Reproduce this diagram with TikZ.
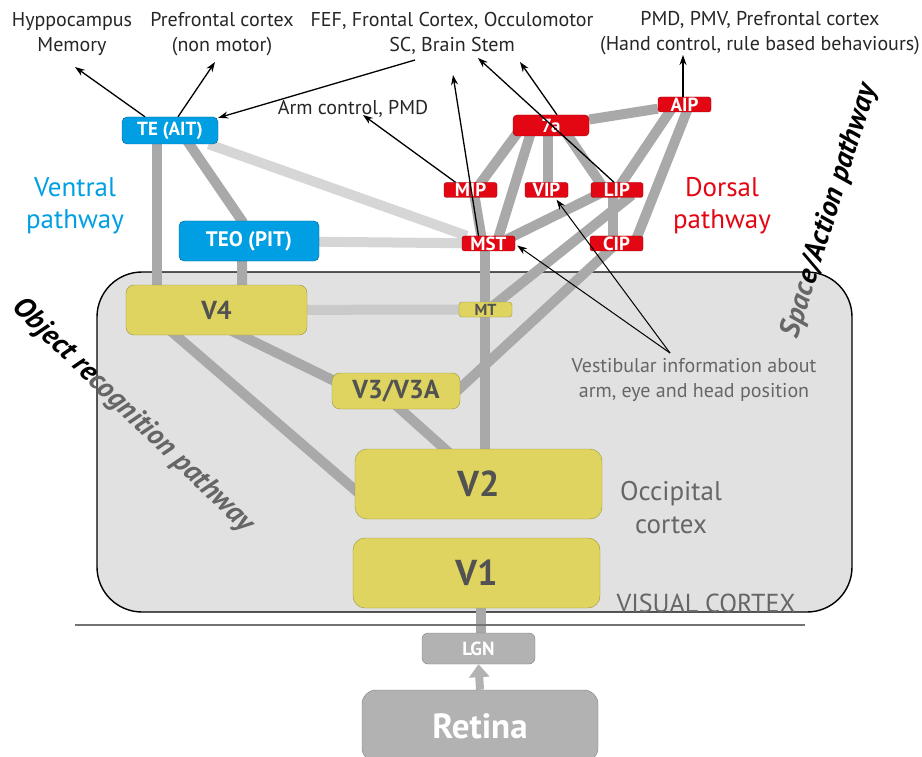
\documentclass[tikz,border=0pt]{standalone}
\usepackage{fontspec}
\setmainfont{PT Sans}
\usetikzlibrary{arrows.meta, positioning, calc, backgrounds}
\definecolor{cortexgray}{HTML}{E1E1E1}
\definecolor{linkgray}{HTML}{A9A9A9}
\definecolor{lightlink}{HTML}{D6D6D6}
\definecolor{innerlink}{HTML}{CACACA}
\definecolor{areayellow}{HTML}{DFD45F}
\definecolor{ventralblue}{HTML}{009FE3}
\definecolor{dorsalred}{HTML}{E30613}
\definecolor{labelgray}{HTML}{666666}
\definecolor{inputgray}{HTML}{B2B2B2}
\newcommand{\fsz}[1]{\fontsize{#1}{#1}\selectfont}
\newcommand{\fszl}[2]{\fontsize{#1}{#2}\selectfont}

\begin{document}
\begin{tikzpicture}[x=1pt, y=-1pt,
    bluebox/.style={rectangle, draw=ventralblue!60!black, fill=ventralblue, rounded corners=5pt, text=white, inner sep=0pt, font=\fsz{19}\bfseries},
    redbox/.style={rectangle, draw=dorsalred!65!black, fill=dorsalred, rounded corners=2.5pt, text=white, inner sep=0pt, minimum width=53pt, minimum height=15pt, font=\fsz{19}\bfseries},
    yelbox/.style={rectangle, draw=areayellow!70!black, fill=areayellow, rounded corners=8pt, text=black!68, inner sep=0pt, font=\bfseries},
    inbox/.style={rectangle, draw=inputgray!70!black, fill=inputgray, rounded corners=6pt, text=white, inner sep=0pt, font=\bfseries},
    lbl/.style={align=center, font=\fszl{20}{25}, text=black!85, inner sep=0pt},
    tilted/.style={font=\fsz{29}\bfseries\itshape, inner sep=0pt},
    link/.style={line width=10pt, color=linkgray},
    llink/.style={line width=10pt, color=lightlink},
    blarr/.style={-{Stealth[length=10pt, width=7pt]}, line width=1.3pt, color=black}
]
\useasboundingbox (0,0) rectangle (922,757);

% Ventral nodes
\node[bluebox, minimum width=96pt, minimum height=27pt] (te) at (170,130.5) {TE (AIT)};
\node[bluebox, minimum width=140pt, minimum height=40pt, font=\fsz{21}\bfseries] (teo) at (249,241) {TEO (PIT)};

% Occipital nodes
\node[yelbox, minimum width=181pt, minimum height=50pt, font=\fsz{26}\bfseries] (v4) at (216.5,310) {V4};
\node[yelbox, minimum width=53pt, minimum height=15pt, rounded corners=3pt, font=\fsz{16}\bfseries] (mt) at (485.5,309.5) {MT};
\node[yelbox, minimum width=128pt, minimum height=36pt, font=\fsz{26}\bfseries] (v3) at (396,391) {V3/V3A};
\node[yelbox, minimum width=247pt, minimum height=70pt, rounded corners=12pt, font=\fsz{36}\bfseries] (v2) at (478.5,484) {V2};
\node[yelbox, minimum width=247pt, minimum height=70pt, rounded corners=12pt, font=\fsz{36}\bfseries] (v1) at (476.5,573) {V1};

% Input nodes
\node[inbox, minimum width=113pt, minimum height=31pt, font=\fsz{19}\bfseries] (lgn) at (478.5,648.5) {LGN};
\node[inbox, minimum width=236pt, minimum height=72pt, rounded corners=14pt, font=\fsz{35}\bfseries] (retina) at (480,726) {Retina};

% Dorsal nodes
\node[redbox, minimum width=76pt, minimum height=21pt, rounded corners=4pt] (a7) at (551,125.5) {7a};
\node[redbox] (mip) at (470.5,190) {MIP};
\node[redbox, minimum width=43pt] (vip) at (546.5,190) {VIP};
\node[redbox, minimum width=52pt] (lip) at (617,190) {LIP};
\node[redbox] (mst) at (488.5,243.5) {MST};
\node[redbox] (cip) at (616.5,243.5) {CIP};
\node[redbox] (aip) at (684.5,104.5) {AIP};

% Cortex box and links
\begin{scope}[on background layer]
\draw[fill=cortexgray, line width=1.4pt, rounded corners=45pt] (97,272) rectangle (852,612);
\draw[line width=10pt, color=innerlink] (v4) -- (mt);
\draw[llink] (te) -- (mst);
\draw[llink] (teo) -- (mst);
\draw[link] ($(te)+(-13,0)$) -- ($(v4)+(-59.5,0)$);
\draw[link] ($(te)+(10,0)$) -- ($(teo)+(-7,-20)$) -- ($(v4)+(25.5,0)$);
\draw[link] ($(v4)+(-70,0)$) -- ($(v2)+(-98.5,27.5)$);
\draw[link] ($(v4)+(-27.5,0)$) -- ($(v3)+(-41,0)$);
\draw[link] ($(v3)+(-16,0)$) -- ($(v2)+(5.5,0)$);
\draw[link] ($(v3)+(61,0)$) -- (cip.center);
\draw[link] ($(v2)+(6.5,0)$) -- ($(mst)+(-3.5,0)$);
\draw[link] ($(mt)+(3,0)$) -- ($(lip)+(15,5)$);
\draw[link] ($(lgn)+(2.5,0)$) -- ($(v1)+(4.5,0)$);
\draw[link] (a7) -- (aip);
\draw[link] ($(a7)+(-28,0)$) -- ($(mip)+(5,0)$);
\draw[link] ($(a7)+(-18,0)$) -- ($(mst)+(8,0)$);
\draw[link] ($(a7)+(-3,0)$) -- ($(vip)+(1.5,0)$);
\draw[link] ($(a7)+(10,0)$) -- ($(lip)+(-12,0)$);
\draw[link] ($(mip)+(3,0)$) -- ($(mst)+(-6,0)$);
\draw[link] ($(mst)+(10,0)$) -- ($(lip)+(-10,0)$);
\draw[link] ($(aip)+(-10,0)$) -- (lip.center);
\draw[link] ($(aip)+(5,0)$) -- ($(cip)+(18,0)$);
\draw[link] ($(lip)+(-4,0)$) -- ($(cip)+(-3.5,0)$);
\end{scope}
\draw[line width=1.4pt, color=black!55] (75,625) -- (805,625);
\draw[-{Triangle[width=20pt, length=13pt]}, line width=8pt, color=inputgray] (retina.north) -- (lgn.south);

% Texts
\node[lbl] (hippo) at (72,34) {Hyppocampus\\Memory};
\node[lbl] (pfc) at (222,34) {Prefrontal cortex\\(non motor)};
\node[lbl] (fef) at (452,33) {FEF, Frontal Cortex, Occulomotor\\SC, Brain Stem};
\node[lbl] (pmd) at (760,33) {PMD, PMV, Prefrontal cortex\\(Hand control, rule based behaviours)};
\node[lbl] (arm) at (353,109) {Arm control, PMD};
\node[lbl, font=\fszl{27}{32}, text=ventralblue] (ventral) at (75,206) {Ventral\\pathway};
\node[lbl, font=\fszl{27}{32}, text=dorsalred] (dorsal) at (722,206) {Dorsal\\pathway};
\node[lbl, font=\fszl{27}{33}, text=labelgray] (occ) at (671,508) {Occipital\\cortex};
\node[lbl, font=\fszl{20}{25}, text=labelgray] (vestib) at (694,380) {Vestibular information about\\arm, eye and head position};
\node[lbl, font=\fsz{26}, text=labelgray] (viscortex) at (706,603) {VISUAL CORTEX};

% Pathway names, dark outside and grey inside the cortex box
\node[tilted, rotate=-44] (objrec) at (133,416) {Object re{\color{labelgray}cognition pathway}};
\node[tilted, rotate=72.7] (spaceact) at (830,211) {{\color{labelgray}Spac}e/Action pathway};

% Outputs
\coordinate (hippotip) at (75,67);
\coordinate (pfctip) at (215,62);
\coordinate (sctail) at (415,60);
\coordinate (armtip) at (363,115);
\coordinate (feftip) at (453,75);
\coordinate (sctip) at (478,58);
\coordinate (a7tip) at (520,62);
\coordinate (pmdtip) at (683,55);
\coordinate (vestibtip) at (670,353);
\draw[blarr] ($(te.north)+(-25,0)$) -- (hippotip);
\draw[blarr] ($(te.north)+(8,0)$) -- (pfctip);
\draw[blarr] (sctail) -- ($(te.north east)+(0,1)$);
\draw[blarr] ($(mip.north)+(-15,0)$) -- (armtip);
\draw[blarr] ($(mst.north)+(-10,0)$) -- (feftip);
\draw[blarr] ($(lip.north)+(-3,0)$) -- (sctip);
\draw[blarr] ($(a7.north)+(6,0)$) -- (a7tip);
\draw[blarr] ($(aip.north)+(-1.5,0)$) -- (pmdtip);
\draw[blarr, line width=1pt] (vestibtip) -- ($(mst.east)+(2,2)$);
\draw[blarr, line width=1pt] (vestibtip) -- ($(vip.south)+(10,2)$);

\end{tikzpicture}
\end{document}
